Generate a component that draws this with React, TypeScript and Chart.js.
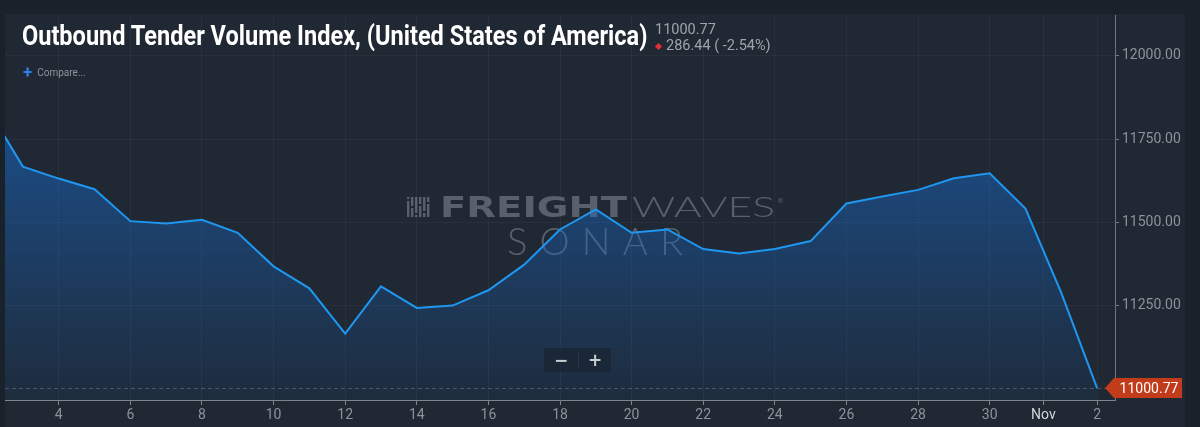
import React, { useEffect, useRef } from "react";
import { Chart, registerables } from "chart.js";

Chart.register(...registerables);

const TITLE = "Outbound Tender Volume Index, (United States of America)";
const LAST_VALUE_TEXT = "11000.77";
const CHANGE_TEXT = "286.44 ( -2.54%)";
const COMPARE_TEXT = "Compare...";

// day index: 2..30 = October day, 31 = Oct 31, 32 = Nov 1, 33 = Nov 2
const days = [2, 3, 4, 5, 6, 7, 8, 9, 10, 11, 12, 13, 14, 15, 16, 17, 18, 19, 20, 21, 22, 23, 24, 25, 26, 27, 28, 29, 30, 31, 32, 33];
const values = [
  11845, 11667, 11631, 11599, 11503, 11496, 11507, 11468, 11367, 11301, 11165, 11307,
  11242, 11249, 11295, 11372, 11478, 11538, 11468, 11478, 11419, 11406, 11419, 11443,
  11556, 11577, 11597, 11632, 11647, 11541, 11287.21, 11000.77,
];
const xTickValues = [4, 6, 8, 10, 12, 14, 16, 18, 20, 22, 24, 26, 28, 30, 31.5, 33];
const xTickLabels = ["4", "6", "8", "10", "12", "14", "16", "18", "20", "22", "24", "26", "28", "30", "Nov", "2"];
const yTickValues = [11250, 11500, 11750, 12000];
const lastValue = 11000.77;

const X_MIN = 2.5;
const X_MAX = 33.5;
const Y_MIN = 10965;
const Y_MAX = 12123;

const TITLE_WIDTH = 625;

const fitText = (ctx: CanvasRenderingContext2D, text: string, x: number, y: number, width: number, font: string) => {
  ctx.font = font;
  const w = ctx.measureText(text).width;
  ctx.save();
  ctx.translate(x, y);
  ctx.scale(width / w, 1);
  ctx.fillText(text, 0, 0);
  ctx.restore();
};

const overlayPlugin = {
  id: "overlay",
  beforeDatasetsDraw(chart: any) {
    const ctx: CanvasRenderingContext2D = chart.ctx;
    ctx.save();
    const col = "rgba(150,160,170,0.47)";
    ctx.fillStyle = col;
    // logo bars
    const bx = 407;
    for (let i = 0; i < 6; i++) {
      const x = bx + i * 4;
      const gapY = 199 + ((i * 7) % 16);
      ctx.fillRect(x, 197, 2.4, gapY - 197);
      ctx.fillRect(x, gapY + 2, 2.4, 217 - gapY - 2);
    }
    ctx.textBaseline = "alphabetic";
    ctx.textAlign = "left";
    fitText(ctx, "FREIGHT", 440, 217, 187, "900 28px 'DejaVu Sans'");
    fitText(ctx, "WAVES", 632, 217, 143, "300 28px Lato");
    ctx.font = "7px 'DejaVu Sans'";
    ctx.fillText("®", 777, 203);
    // SONAR with letter spacing
    ctx.font = "300 38px Lato";
    const w = ctx.measureText("SONAR").width;
    const spacing = (176 - w) / 4;
    (ctx as any).letterSpacing = spacing + "px";
    ctx.fillText("SONAR", 507, 255);
    (ctx as any).letterSpacing = "0px";
    ctx.restore();
  },
  afterDraw(chart: any) {
    const ctx: CanvasRenderingContext2D = chart.ctx;
    const area = chart.chartArea;
    const y = chart.scales.y.getPixelForValue(lastValue);
    ctx.save();
    ctx.strokeStyle = "rgba(140,146,152,0.4)";
    ctx.lineWidth = 1;
    ctx.setLineDash([4, 3]);
    ctx.beginPath();
    ctx.moveTo(area.left, Math.round(y) + 0.5);
    ctx.lineTo(area.right, Math.round(y) + 0.5);
    ctx.stroke();
    ctx.setLineDash([]);
    // badge
    const left = 1114;
    const right = 1182;
    const h = 10;
    ctx.fillStyle = "#c23c1b";
    ctx.beginPath();
    ctx.moveTo(1105, y);
    ctx.lineTo(left, y - h);
    ctx.lineTo(right, y - h);
    ctx.lineTo(right, y + h);
    ctx.lineTo(left, y + h);
    ctx.closePath();
    ctx.fill();
    ctx.fillStyle = "#ffffff";
    ctx.font = "14px Roboto";
    ctx.textAlign = "center";
    ctx.textBaseline = "middle";
    ctx.fillText(LAST_VALUE_TEXT, (left + right) / 2 + 1, y + 1);
    ctx.restore();
  },
};

export default function App() {
  const canvasRef = useRef<HTMLCanvasElement | null>(null);
  const titleRef = useRef<HTMLDivElement | null>(null);

  useEffect(() => {
    document.body.style.margin = "0";
    const t = titleRef.current;
    if (t) {
      const w = t.scrollWidth;
      if (w > 0) t.style.transform = `scaleX(${TITLE_WIDTH / w})`;
    }
    const canvas = canvasRef.current;
    if (!canvas) return;
    const chart = new Chart(canvas, {
      type: "line",
      data: {
        datasets: [
          {
            data: days.map((d, i) => ({ x: d, y: values[i] })),
            borderColor: "#1f97f0",
            borderWidth: 2,
            pointRadius: 0,
            tension: 0,
            fill: "start",
            backgroundColor: (c: any) => {
              const area = c.chart.chartArea;
              if (!area) return "rgba(0,0,0,0)";
              const g = c.chart.ctx.createLinearGradient(0, area.top, 0, area.bottom);
              g.addColorStop(0, "rgba(26,104,196,0.78)");
              g.addColorStop(1, "rgba(26,104,196,0.07)");
              return g;
            },
          },
        ],
      },
      options: {
        animation: false,
        responsive: false,
        maintainAspectRatio: false,
        layout: { padding: { left: 5, top: 15, right: 0, bottom: 0 } },
        plugins: { legend: { display: false }, tooltip: { enabled: false } },
        scales: {
          x: {
            type: "linear",
            min: X_MIN,
            max: X_MAX,
            afterBuildTicks: (s: any) => {
              s.ticks = xTickValues.map((v) => ({ value: v }));
            },
            afterFit: (s: any) => {
              s.height = 27;
            },
            ticks: {
              autoSkip: false,
              maxRotation: 0,
              padding: 2,
              font: { family: "Roboto", size: 14 },
              color: (c: any) => (c.tick && c.tick.value === 31.5 ? "#d2d6da" : "#8b939b"),
              callback: (v: any) => {
                const i = xTickValues.indexOf(Number(v));
                return i >= 0 ? xTickLabels[i] : "";
              },
            },
            grid: { color: "rgba(255,255,255,0.045)", tickColor: "#7d848b", tickLength: 5 },
            border: { color: "#7d848b", width: 1 },
          },
          y: {
            position: "right",
            min: Y_MIN,
            max: Y_MAX,
            afterBuildTicks: (s: any) => {
              s.ticks = yTickValues.map((v) => ({ value: v }));
            },
            afterFit: (s: any) => {
              s.width = 85;
            },
            ticks: {
              padding: 3,
              font: { family: "Roboto", size: 14 },
              color: "#8b939b",
              callback: (v: any) => Number(v).toFixed(2),
            },
            grid: { color: "rgba(255,255,255,0.045)", tickColor: "#6f767d", tickLength: 4 },
            border: { color: "#6f767d", width: 1 },
          },
        },
      } as any,
      plugins: [overlayPlugin],
    });
    return () => chart.destroy();
  }, []);

  return (
    <div style={{ position: "fixed", left: 0, top: 0, width: 1200, height: 427, background: "#19212a", overflow: "hidden" }}>
      <div style={{ position: "absolute", left: 5, top: 14, width: 1180, height: 413, background: "#1f2833" }} />
      <canvas
        ref={canvasRef}
        width={1200}
        height={427}
        style={{ position: "absolute", left: 0, top: 0, width: 1200, height: 427 }}
      />
      <div
        ref={titleRef}
        style={{
          position: "absolute",
          left: 22,
          top: 23,
          fontFamily: "Roboto, sans-serif",
          fontWeight: 700,
          fontSize: 27,
          lineHeight: "27px",
          color: "#ffffff",
          whiteSpace: "nowrap",
          transformOrigin: "0 0",
        }}
      >
        {TITLE}
      </div>
      <div
        style={{
          position: "absolute",
          left: 655,
          top: 22,
          fontFamily: "Roboto, sans-serif",
          fontSize: 14.5,
          lineHeight: "16px",
          color: "#9ea4aa",
          whiteSpace: "nowrap",
        }}
      >
        {LAST_VALUE_TEXT}
      </div>
      <div
        style={{
          position: "absolute",
          left: 656,
          top: 38,
          fontFamily: "Roboto, sans-serif",
          fontSize: 14.5,
          lineHeight: "16px",
          color: "#9ea4aa",
          whiteSpace: "nowrap",
          display: "flex",
          alignItems: "center",
        }}
      >
        <span style={{ display: "inline-block", width: 5, height: 5, background: "#e0303a", transform: "rotate(45deg)", marginRight: 5 }} />
        <span>{CHANGE_TEXT}</span>
      </div>
      <div
        style={{
          position: "absolute",
          left: 23,
          top: 65,
          fontFamily: "Roboto, sans-serif",
          fontSize: 10,
          lineHeight: "14px",
          color: "#8d949b",
          whiteSpace: "nowrap",
        }}
      >
        <span style={{ color: "#2f7fe6", fontSize: 17, fontWeight: 700, marginRight: 5, verticalAlign: "-2px" }}>+</span>
        {COMPARE_TEXT}
      </div>
      <div
        style={{
          position: "absolute",
          left: 544,
          top: 348,
          width: 67,
          height: 24,
          background: "rgba(24,36,50,0.75)",
          display: "flex",
          alignItems: "center",
          fontFamily: "'DejaVu Sans', sans-serif",
          fontWeight: 700,
          fontSize: 17,
          color: "#c9ced3",
        }}
      >
        <span style={{ width: 34, textAlign: "center", lineHeight: "24px" }}>−</span>
        <span style={{ width: 1, height: 16, background: "rgba(255,255,255,0.08)" }} />
        <span style={{ width: 32, textAlign: "center", lineHeight: "24px" }}>+</span>
      </div>
    </div>
  );
}
